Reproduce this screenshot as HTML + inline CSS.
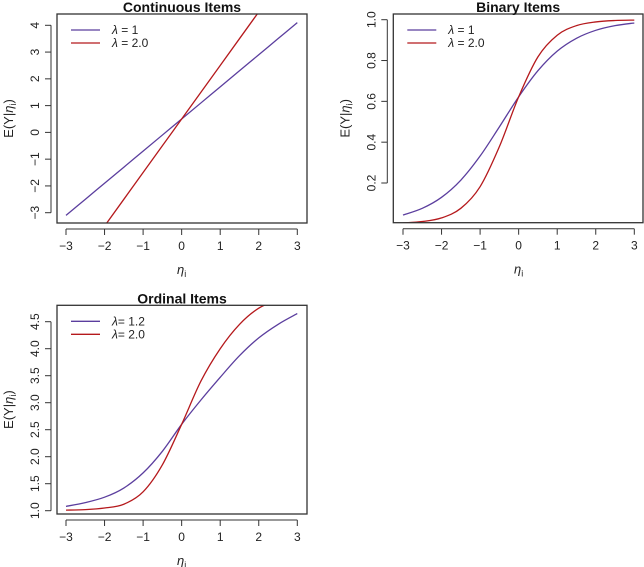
<!DOCTYPE html>
<html><head><meta charset="utf-8"><style>
body{margin:0;background:#fff}
svg{display:block;font-family:"Liberation Sans",sans-serif}
</style></head><body>
<svg id="c" width="644" height="567"></svg>
<script>
const xTicks=[-3,-2,-1,0,1,2,3];
const xs=[-3,-2.5,-2,-1.5,-1,-0.5,0,0.5,1,1.5,2,2.5,3];
const contTicks=[-3,-2,-1,0,1,2,3,4];
const contBlue=[-3.1,-2.5,-1.9,-1.3,-0.7,-0.1,0.5,1.1,1.7,2.3,2.9,3.5,4.1];
const contRed=[-5.5,-4.5,-3.5,-2.5,-1.5,-0.5,0.5,1.5,2.5,3.5,4.5,5.5,6.5];
const binTicks=[0.2,0.4,0.6,0.8,1.0];
const binTickLabels=["0.2","0.4","0.6","0.8","1.0"];
const binBlue=[0.043,0.076,0.130,0.214,0.332,0.475,0.622,0.750,0.846,0.909,0.948,0.971,0.984];
const binRed=[0.004,0.011,0.029,0.076,0.182,0.378,0.622,0.818,0.924,0.971,0.989,0.996,0.998];
const ordTicks=[1.0,1.5,2.0,2.5,3.0,3.5,4.0,4.5];
const ordTickLabels=["1.0","1.5","2.0","2.5","3.0","3.5","4.0","4.5"];
const ordBlue=[1.08,1.15,1.25,1.42,1.7,2.1,2.6,3.05,3.47,3.87,4.2,4.45,4.65];
const ordRed=[1.01,1.02,1.05,1.12,1.35,1.85,2.6,3.4,4.0,4.45,4.75,4.9,4.97];
const NS="http://www.w3.org/2000/svg";
const svg=document.getElementById('c');
function mk(tag,attrs,parent){const e=document.createElementNS(NS,tag);for(const k in attrs)e.setAttribute(k,attrs[k]);(parent||svg).appendChild(e);return e;}
function panel(o){
  const g=mk('g',{});
  
  
  const X=v=>o.px0+(v-(-3))*(o.px1-o.px0)/6;
  const Y=v=>o.py0+(v-o.t0)*(o.py1-o.py0)/(o.t1-o.t0);
  const cid='clip'+o.name;
  const cp=mk('clipPath',{id:cid},g);mk('rect',{x:o.bx0,y:o.by0,width:o.bx1-o.bx0,height:o.by1-o.by0},cp);
  function series(vals,col,nm){
    const pts=xs.map((x,i)=>[X(x),Y(vals[i])]);
    let d='M'+pts[0][0]+','+pts[0][1];
    for(let i=0;i<pts.length-1;i++){
      const p0=pts[Math.max(0,i-1)],p1=pts[i],p2=pts[i+1],p3=pts[Math.min(pts.length-1,i+2)];
      d+=' C'+(p1[0]+(p2[0]-p0[0])/6)+','+(p1[1]+(p2[1]-p0[1])/6)+' '+(p2[0]-(p3[0]-p1[0])/6)+','+(p2[1]-(p3[1]-p1[1])/6)+' '+p2[0]+','+p2[1];
    }
    const p=mk('path',{d:d,fill:'none',stroke:col,'stroke-width':1.3,'clip-path':'url(#'+cid+')'},g);
    
    
  }
  series(o.blue,'#5b3e9e','series-blue');
  series(o.red,'#b5191c','series-red');
  const box=mk('rect',{x:o.bx0,y:o.by0,width:o.bx1-o.bx0,height:o.by1-o.by0,fill:'none',stroke:'#333','stroke-width':1.3},g);
  
  
  mk('line',{x1:X(-3),x2:X(3),y1:o.by1+6,y2:o.by1+6,stroke:'#333'},g);
  xTicks.forEach(t=>{
    mk('line',{x1:X(t),x2:X(t),y1:o.by1+6,y2:o.by1+12,stroke:'#333'},g);
    const tx=mk('text',{x:X(t),y:o.by1+27,'text-anchor':'middle','font-size':12,fill:'#222'},g);
    tx.textContent=(t<0?'\u2212'+(-t):t);
    
    
  });
  const ax=o.bx0-6;
  mk('line',{x1:ax,x2:ax,y1:Y(o.ticks[0]),y2:Y(o.ticks[o.ticks.length-1]),stroke:'#333'},g);
  o.ticks.forEach((t,i)=>{
    mk('line',{x1:ax,x2:ax-6,y1:Y(t),y2:Y(t),stroke:'#333'},g);
    const lab=o.labels?o.labels[i]:(t<0?'\u2212'+(-t):String(t));
    const tx=mk('text',{x:ax-12,y:Y(t),'text-anchor':'middle','font-size':12,fill:'#222',transform:'rotate(-90 '+(ax-12)+' '+Y(t)+')'},g);
    tx.textContent=lab;
    
    
  });
  const cx=(o.bx0+o.bx1)/2;
  const ti=mk('text',{x:cx,y:o.by0-2,'text-anchor':'middle','font-size':14,'font-weight':'bold',fill:'#111'},g);
  ti.textContent=o.title;
  
  
  const xl=mk('text',{x:X(0),y:o.by1+51,'text-anchor':'middle','font-size':13,fill:'#222'},g);
  xl.innerHTML='<tspan font-style="italic">η</tspan><tspan font-size="9" dy="3">i</tspan>';
  
  
  const ym=(o.by0+o.by1)/2, yx=o.bx0-44;
  const yl=mk('text',{x:yx,y:ym,'text-anchor':'middle','font-size':13,fill:'#222',transform:'rotate(-90 '+yx+' '+ym+')'},g);
  yl.innerHTML='E(Y|<tspan font-style="italic">η</tspan><tspan font-size="9" dy="3">i</tspan><tspan dy="-3">)</tspan>';
  
  
  [[o.legend[0],'#5b3e9e',16],[o.legend[1],'#b5191c',29]].forEach(([txt,col,dy])=>{
    mk('line',{x1:o.bx0+14,x2:o.bx0+43,y1:o.by0+dy,y2:o.by0+dy,stroke:col,'stroke-width':1.3},g);
    const lt=mk('text',{x:o.bx0+55,y:o.by0+dy+4,'font-size':12,fill:'#222'},g);
    lt.innerHTML='<tspan font-style="italic">λ</tspan>'+txt;
    
    
  });
}
panel({name:'continuous-panel',title:'Continuous Items',bx0:57,bx1:307,by0:14,by1:223,px0:66,px1:297.3,t0:4,t1:-3,py0:25.3,py1:212.7,ticks:contTicks,blue:contBlue,red:contRed,legend:[' = 1',' = 2.0']});
panel({name:'binary-panel',title:'Binary Items',bx0:393.3,bx1:643,by0:14,by1:222.7,px0:403,px1:634.3,t0:1.0,t1:0.2,py0:19.7,py1:183,ticks:binTicks,labels:binTickLabels,blue:binBlue,red:binRed,legend:[' = 1',' = 2.0']});
panel({name:'ordinal-panel',title:'Ordinal Items',bx0:57,bx1:307,by0:305.3,by1:514,px0:66,px1:297.3,t0:4.5,t1:1.0,py0:321.7,py1:510.7,ticks:ordTicks,labels:ordTickLabels,blue:ordBlue,red:ordRed,legend:['= 1.2','= 2.0']});
</script>
</body></html>
